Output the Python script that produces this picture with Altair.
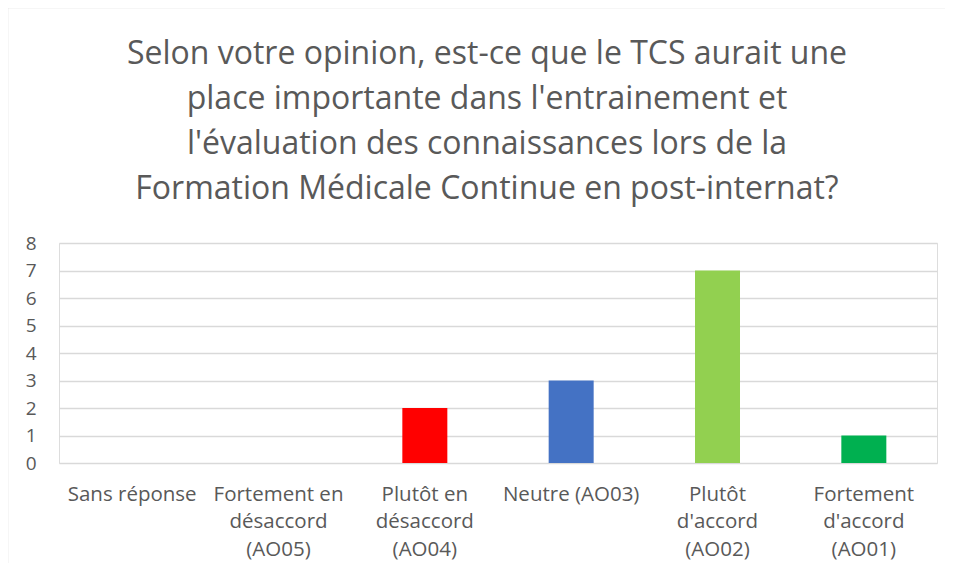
import altair as alt
import pandas as pd

# ---- data ----
categories = [
    "Sans réponse",
    "Fortement en|désaccord|(AO05)",
    "Plutôt en|désaccord|(AO04)",
    "Neutre (AO03)",
    "Plutôt|d'accord|(AO02)",
    "Fortement|d'accord|(AO01)",
]
values = [0, 0, 2, 3, 7, 1]
bar_colors = ["#A5A5A5", "#FFC000", "#FF0000", "#4472C4", "#92D050", "#00B050"]
y_ticks = [0, 1, 2, 3, 4, 5, 6, 7, 8]
title_lines = [
    "Selon votre opinion, est-ce que le TCS aurait une",
    "place importante dans l'entrainement et",
    "l'évaluation des connaissances lors de la",
    "Formation Médicale Continue en post-internat?",
]

df = pd.DataFrame({"cat": categories, "val": values, "col": bar_colors})

FONT = "Open Sans"
GREY = "#595959"
GRID = "#D9D9D9"

bars = alt.Chart(df).mark_bar(size=45).encode(
    x=alt.X(
        "cat:N",
        sort=categories,
        title=None,
        scale=alt.Scale(paddingInner=0.69, paddingOuter=0.345),
        axis=alt.Axis(
            labelExpr="split(datum.label, '|')",
            labelAngle=0,
            labelFont=FONT,
            labelFontSize=20.5,
            labelColor=GREY,
            labelLineHeight=27.5,
            labelPadding=21,
            labelLimit=200,
            ticks=False,
            domain=False,
            grid=False,
        ),
    ),
    y=alt.Y(
        "val:Q",
        title=None,
        scale=alt.Scale(domain=[0, 8], nice=False),
        axis=alt.Axis(
            values=y_ticks,
            labelFont=FONT,
            labelFontSize=19,
            labelColor=GREY,
            labelPadding=23,
            ticks=False,
            domain=False,
            gridColor=GRID,
            gridWidth=1.3,
        ),
    ),
    color=alt.Color("col:N", scale=None, legend=None),
)

one = pd.DataFrame({"a": [0]})

title = alt.Chart(one).mark_text(
    text=title_lines,
    font=FONT,
    fontSize=32,
    color=GREY,
    lineHeight=45,
    align="center",
    baseline="alphabetic",
).encode(x=alt.value(428), y=alt.value(-179))

frame_style = dict(color=GRID, strokeWidth=1.5)
left = alt.Chart(one).mark_rule(**frame_style).encode(
    x=alt.value(-51.5), x2=alt.value(-51.5), y=alt.value(-235.5), y2=alt.value(340)
)
top = alt.Chart(one).mark_rule(**frame_style).encode(
    x=alt.value(-51.5), x2=alt.value(900), y=alt.value(-235.5), y2=alt.value(-235.5)
)

chart = alt.layer(bars, title, left, top).properties(
    width=878,
    height=220,
    autosize=alt.AutoSizeParams(type="none"),
    padding={"left": 51, "top": 235, "right": 8, "bottom": 100},
).configure_view(strokeWidth=0).configure(background="white")

chart.save("out.html", embed_options={"renderer": "svg", "actions": False})
